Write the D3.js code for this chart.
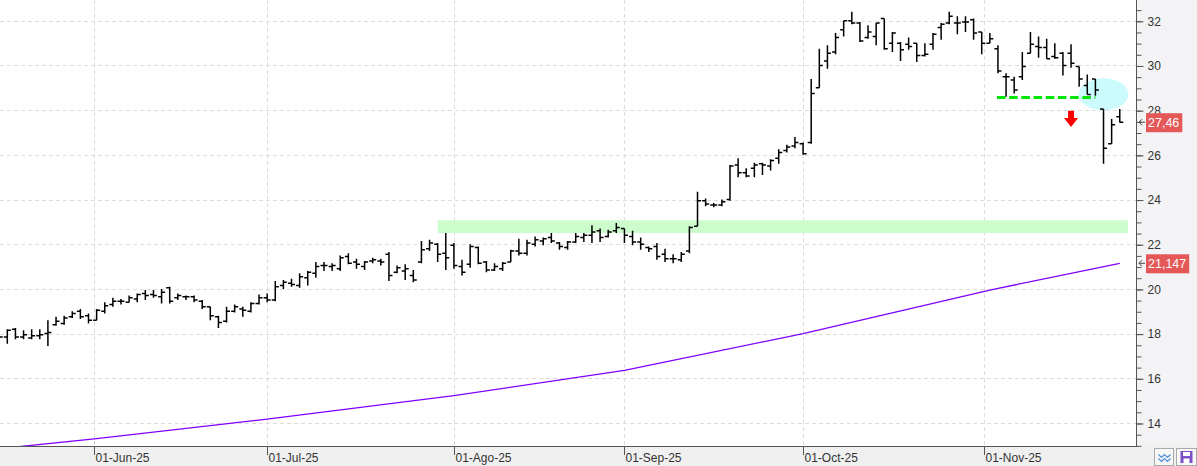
<!DOCTYPE html>
<html>
<head>
<meta charset="utf-8">
<script src="https://cdn.jsdelivr.net/npm/d3@7"></script>
<style>
html, body { margin: 0; padding: 0; background: #fff; }
svg { display: block; font-family: "Segoe UI", "Liberation Sans", Arial, sans-serif; }
</style>
</head>
<body>
<div id="chart"></div>
<script>
// daily OHLC, trading days from 15-May-25 to 25-Nov-25
var firstDay = "2025-05-15";
var lastSlot = "2025-11-28";

var open = [17.90,17.85,18.20,17.85,17.80,17.90,18.00,18.40,18.45,18.75,19.00,18.80,18.60,19.00,19.30,19.45,19.40,19.55,19.80,19.75,
	19.65,20.05,19.60,19.65,19.65,19.45,19.20,18.75,18.55,19.00,19.10,19.00,19.35,19.60,19.50,20.15,20.25,20.15,20.50,20.70,
	21.05,21.00,20.90,21.45,21.20,21.00,21.25,21.25,21.55,20.75,20.80,20.60,21.20,21.80,22.00,21.60,21.95,21.00,21.10,21.85,
	21.20,20.85,20.90,21.20,21.70,21.60,22.00,22.15,22.30,22.05,21.85,22.10,22.30,22.40,22.60,22.35,22.60,22.70,22.35,22.10,
	21.85,21.90,21.55,21.35,21.30,21.70,22.80,23.95,23.75,23.75,24.00,25.55,25.20,25.40,25.60,25.50,25.85,26.20,26.40,26.50,
	26.55,29.00,30.20,30.60,31.60,32.00,31.90,31.25,31.30,32.10,31.00,31.00,30.95,31.00,30.45,30.95,31.70,31.90,31.90,31.95,
	32.05,31.50,31.00,30.75,29.50,29.35,29.50,30.55,30.85,30.80,30.40,30.55,30.55,29.95,29.10,29.40,28.05,26.50,27.70];
var high = [18.00,18.20,18.25,18.15,18.20,18.20,18.60,18.75,18.80,19.00,19.10,18.90,19.10,19.40,19.60,19.55,19.70,19.80,19.95,19.95,
	20.00,20.10,19.80,19.70,19.70,19.50,19.20,18.80,19.20,19.30,19.20,19.40,19.75,19.80,20.35,20.40,20.45,20.70,20.80,21.20,
	21.20,21.15,21.50,21.60,21.35,21.25,21.40,21.35,21.65,21.05,21.10,20.85,22.15,22.20,22.05,22.50,22.05,21.30,22.00,21.90,
	21.25,21.15,21.20,21.75,22.25,22.20,22.35,22.30,22.50,22.10,22.15,22.50,22.50,22.85,22.70,22.65,22.95,22.70,22.60,22.30,
	21.90,22.05,21.80,21.55,21.65,22.80,24.35,24.05,23.85,24.00,25.55,25.85,25.40,25.65,25.65,25.80,26.25,26.45,26.80,26.55,
	29.40,30.75,30.90,31.45,32.00,32.40,31.95,31.80,31.90,32.10,31.50,31.05,31.25,31.00,31.00,31.45,31.90,32.40,32.20,32.20,
	32.10,31.50,31.45,30.90,29.65,29.50,30.60,31.50,31.30,31.20,31.00,30.60,30.95,29.95,29.60,29.40,28.05,27.60,28.05];
var low = [17.70,17.55,17.75,17.75,17.75,17.75,17.45,18.35,18.40,18.70,18.65,18.45,18.60,18.90,19.20,19.30,19.40,19.40,19.50,19.60,
	19.35,19.35,19.50,19.50,19.40,19.10,18.60,18.25,18.50,18.95,18.75,18.95,19.30,19.40,19.45,20.00,20.10,20.05,20.15,20.50,
	20.80,20.80,20.80,21.10,20.90,20.85,21.15,21.05,20.35,20.70,20.40,20.30,21.15,21.70,21.20,20.85,20.90,20.60,20.95,21.10,
	20.75,20.80,20.80,21.20,21.50,21.50,21.90,21.95,22.05,21.75,21.75,22.05,22.10,22.05,22.10,22.30,22.50,22.05,21.95,21.75,
	21.65,21.30,21.20,21.15,21.20,21.60,22.80,23.70,23.65,23.70,23.95,25.00,25.00,25.00,25.10,25.30,25.60,26.10,26.30,26.00,
	26.50,29.00,29.85,30.50,31.30,31.85,31.05,31.20,30.90,30.70,30.60,30.20,30.70,30.15,30.40,30.70,31.15,31.85,31.40,31.50,
	31.15,30.50,31.00,29.65,28.60,28.75,29.35,30.55,30.35,30.30,30.30,29.55,29.90,29.05,28.70,28.65,25.60,26.50,27.45];
var close = [17.85,18.15,17.85,17.95,17.90,17.95,18.05,18.55,18.70,18.90,18.75,18.60,19.05,19.25,19.45,19.45,19.60,19.75,19.70,19.70,
	19.85,19.45,19.70,19.65,19.50,19.20,18.80,18.50,19.00,19.20,19.05,19.35,19.60,19.50,20.10,20.30,20.20,20.55,20.75,21.00,
	21.05,21.05,21.40,21.15,21.10,21.20,21.30,21.20,20.60,20.95,20.90,20.40,21.75,22.05,21.55,21.40,21.05,20.75,21.90,21.15,
	20.85,21.00,21.15,21.70,21.60,22.05,22.20,22.25,22.15,21.90,22.10,22.35,22.40,22.55,22.30,22.55,22.75,22.40,22.10,22.00,
	21.80,21.45,21.35,21.35,21.55,22.75,23.95,23.80,23.75,23.90,25.50,25.20,25.05,25.55,25.55,25.75,26.10,26.35,26.55,26.05,
	28.75,30.00,30.55,31.25,32.00,31.90,31.10,31.50,31.90,30.75,31.45,30.70,30.85,30.45,30.50,31.40,31.85,32.20,31.90,31.95,
	31.45,31.00,31.20,29.75,29.50,28.90,29.95,30.95,30.80,30.30,30.35,30.00,30.10,29.40,28.70,28.90,26.30,27.35,27.46];

// long moving average, read at these dates
var maDates = ["2025-05-15","2025-06-02","2025-07-01","2025-08-01","2025-09-01","2025-10-01","2025-11-03","2025-11-25"];
var maValues = [12.85, 13.30, 14.17, 15.22, 16.35, 18.00, 19.95, 21.147];

var monthTicks = ["2025-06-01","2025-07-01","2025-08-01","2025-09-01","2025-10-01","2025-11-01"];
var monthLabels = ["01-Jun-25","01-Jul-25","01-Ago-25","01-Sep-25","01-Oct-25","01-Nov-25"];
var yTicks = [14,16,18,20,22,24,26,28,30,32];

// drawn annotations
var zone = {from: "2025-07-30", to: "2025-11-26", low: 22.50, high: 23.07};
var support = {from: "2025-11-04", to: "2025-11-20", value: 28.57};
var circle = {date: "2025-11-21", value: 28.71};
var arrow = {date: "2025-11-17", top: 27.97, bottom: 27.25};

var width = 1197, height = 466;
var plotW = 1136, plotH = 446;

var parse = d3.utcParse("%Y-%m-%d");
var days = d3.utcDay.range(parse(firstDay), d3.utcDay.offset(parse(lastSlot), 1))
	.filter(function(d) { var w = d.getUTCDay(); return w !== 0 && w !== 6; });

var x = d3.scaleLinear().domain([0.1, open.length + 1]).range([0, plotW]);
var y = d3.scaleLinear().domain([12.97, 32.93]).range([plotH, 0]);

// position of a calendar date between trading days
function dayIndex(s) {
	var t = parse(s);
	var k = d3.bisectLeft(days, t);
	if (k < days.length && +days[k] === +t) return k;
	var a = days[k - 1], b = days[k];
	return k - 1 + (t - a) / (b - a);
}

var svg = d3.select("#chart").append("svg")
	.attr("width", width)
	.attr("height", height);

svg.append("rect").attr("width", width).attr("height", height).attr("fill", "#fff");

var defs = svg.append("defs");
defs.append("clipPath").attr("id", "plotclip")
	.append("rect").attr("width", plotW).attr("height", plotH);

// right panel + bottom strip
svg.append("rect").attr("x", plotW).attr("y", 0).attr("width", width - plotW).attr("height", height).attr("fill", "#f3f3f5");
svg.append("rect").attr("x", 0).attr("y", plotH).attr("width", width).attr("height", height - plotH).attr("fill", "#f0f0f0");

var g = svg.append("g").attr("clip-path", "url(#plotclip)");

// grid
g.selectAll(".hgrid").data(yTicks).enter().append("line")
	.attr("x1", 0).attr("x2", plotW)
	.attr("y1", function(d) { return Math.round(y(d)) + 0.5; })
	.attr("y2", function(d) { return Math.round(y(d)) + 0.5; })
	.attr("stroke", "#dcdcdc").attr("stroke-dasharray", "4,3");

g.selectAll(".vgrid").data(monthTicks).enter().append("line")
	.attr("x1", function(d) { return Math.round(x(dayIndex(d))) + 0.5; })
	.attr("x2", function(d) { return Math.round(x(dayIndex(d))) + 0.5; })
	.attr("y1", 0).attr("y2", plotH)
	.attr("stroke", "#dcdcdc").attr("stroke-dasharray", "4,3");

// resistance zone
g.append("rect")
	.attr("x", x(dayIndex(zone.from)))
	.attr("width", x(dayIndex(zone.to)) - x(dayIndex(zone.from)))
	.attr("y", y(zone.high))
	.attr("height", y(zone.low) - y(zone.high))
	.attr("fill", "#ccfccc");

// highlight ellipse
g.append("ellipse")
	.attr("cx", x(dayIndex(circle.date)))
	.attr("cy", y(circle.value))
	.attr("rx", 25).attr("ry", 16)
	.attr("fill", "#ccfbfe");

// moving average
var maLine = d3.line()
	.x(function(d, i) { return x(dayIndex(maDates[i])); })
	.y(function(d) { return y(d); });
g.append("path").datum(maValues)
	.attr("d", maLine)
	.attr("fill", "none")
	.attr("stroke", "#8000ff")
	.attr("stroke-width", 1.3);

// OHLC bars
var bars = open.map(function(o, i) { return {i: i, o: o, h: high[i], l: low[i], c: close[i]}; });
g.selectAll(".bar").data(bars).enter().append("path")
	.attr("class", "bar")
	.attr("d", function(d) {
		var cx = x(d.i);
		return "M" + cx + "," + y(d.h) + "V" + y(d.l) +
			"M" + (cx - 3.5) + "," + y(d.o) + "H" + cx +
			"M" + cx + "," + y(d.c) + "H" + (cx + 3.5);
	})
	.attr("fill", "none")
	.attr("stroke", "#000")
	.attr("stroke-width", 1.5);

// support line
g.append("line")
	.attr("x1", x(dayIndex(support.from)) - 1)
	.attr("x2", x(dayIndex(support.to)))
	.attr("y1", y(support.value)).attr("y2", y(support.value))
	.attr("stroke", "#00e600").attr("stroke-width", 3)
	.attr("stroke-dasharray", "8.5,3.7");

// red arrow
var ax = x(dayIndex(arrow.date)), at = y(arrow.top), ab = y(arrow.bottom);
var neck = at + (ab - at) * 0.45;
g.append("path")
	.attr("d", "M" + (ax - 3) + "," + at + "H" + (ax + 3) + "V" + neck + "H" + (ax + 7) +
		"L" + ax + "," + ab + "L" + (ax - 7) + "," + neck + "H" + (ax - 3) + "Z")
	.attr("fill", "#ff0000");

// axes
svg.append("line").attr("x1", plotW + 0.5).attr("x2", plotW + 0.5).attr("y1", 0).attr("y2", plotH)
	.attr("stroke", "#555");
svg.append("line").attr("x1", 0).attr("x2", plotW + 1).attr("y1", plotH + 0.5).attr("y2", plotH + 0.5)
	.attr("stroke", "#555");

var minor = svg.append("g").attr("transform", "translate(" + (plotW + 0.5) + ",0.5)")
	.call(d3.axisRight(y).ticks(40).tickSize(5).tickFormat(""));
minor.select(".domain").remove();
minor.selectAll("line").attr("stroke", "#555");

var major = svg.append("g").attr("transform", "translate(" + (plotW + 0.5) + ",0.5)")
	.call(d3.axisRight(y).tickValues(yTicks).tickSize(7).tickPadding(4).tickFormat(d3.format("d")));
major.select(".domain").remove();
major.selectAll("line").attr("stroke", "#555");
major.selectAll("text").attr("fill", "#333").style("font-size", "12px");

var xt = svg.append("g");
monthTicks.forEach(function(d, k) {
	var px = Math.round(x(dayIndex(d))) + 0.5;
	xt.append("line").attr("x1", px).attr("x2", px).attr("y1", plotH).attr("y2", plotH + 9).attr("stroke", "#555");
	xt.append("text").attr("x", px + 1).attr("y", plotH + 16)
		.attr("fill", "#333").style("font-size", "12px").text(monthLabels[k]);
});

// value labels on axis
var comma = d3.formatLocale({decimal: ",", thousands: ".", grouping: [3], currency: ["", ""]});
var tags = [
	{v: close[close.length - 1], t: comma.format(".2f")(close[close.length - 1])},
	{v: maValues[maValues.length - 1], t: comma.format(".3f")(maValues[maValues.length - 1])}
];
tags.forEach(function(d) {
	var ty = y(d.v);
	var tg = svg.append("g");
	var txt = tg.append("text").attr("x", plotW + 12).attr("y", ty + 1).attr("dy", "0.33em")
		.attr("fill", "#fff").style("font-size", "12.5px").text(d.t);
	var w = txt.node().getComputedTextLength();
	tg.insert("rect", "text").attr("x", plotW + 10).attr("y", ty - 9).attr("width", w + 5).attr("height", 19)
		.attr("fill", "#e55858");
	tg.append("path")
		.attr("d", "M" + (plotW + 9) + "," + ty + "H" + (plotW + 3) + "M" + (plotW + 6) + "," + (ty - 3) + "L" + (plotW + 3) + "," + ty + "L" + (plotW + 6) + "," + (ty + 3))
		.attr("fill", "none").attr("stroke", "#444");
});

// little buttons bottom right
var b1 = svg.append("g").attr("transform", "translate(1154.5,448.5)");
b1.append("rect").attr("width", 19).attr("height", 17).attr("fill", "#f7f7f7").attr("stroke", "#aaa");
b1.append("path").attr("d", "M4,6 L7,9 L10,6 L13,9 L16,6 M4,10 L7,13 L10,10 L13,13 L16,10")
	.attr("fill", "none").attr("stroke", "#4a90d9").attr("stroke-width", 1.2);
var b2 = svg.append("g").attr("transform", "translate(1176.5,448.5)");
b2.append("rect").attr("width", 20).attr("height", 17).attr("fill", "#f7f7f7").attr("stroke", "#aaa");
b2.append("rect").attr("x", 4).attr("y", 2.5).attr("width", 12).attr("height", 12).attr("fill", "#7b4fc8");
b2.append("rect").attr("x", 6.5).attr("y", 3.5).attr("width", 7).attr("height", 4).attr("fill", "#fff");
b2.append("rect").attr("x", 7).attr("y", 10).attr("width", 6).attr("height", 4.5).attr("fill", "#fff");
</script>
</body>
</html>
